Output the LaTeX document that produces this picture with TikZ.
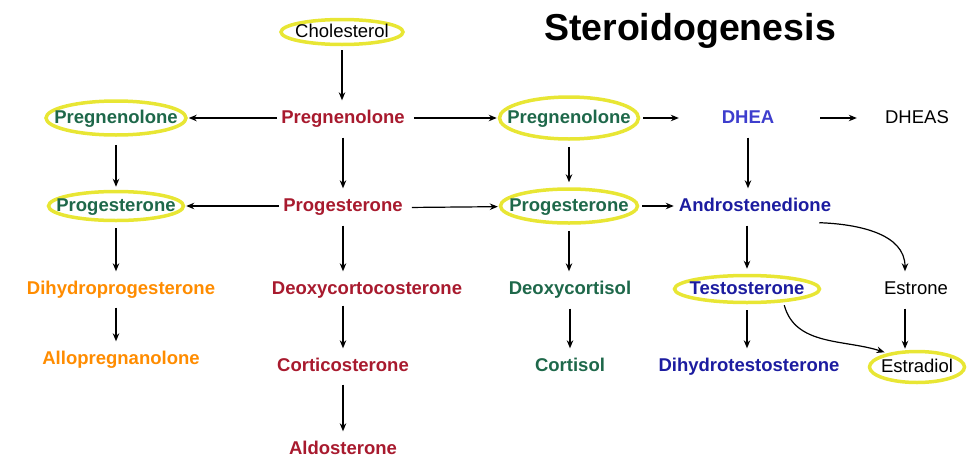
\documentclass[tikz,border=0pt]{standalone}
\usepackage{fontspec}
\setmainfont{Liberation Sans}
\usetikzlibrary{shapes.geometric,arrows.meta}
\definecolor{cred}{RGB}{168,26,46}
\definecolor{cgreen}{RGB}{30,104,74}
\definecolor{cblue}{RGB}{28,28,160}
\definecolor{cdhea}{RGB}{62,62,205}
\definecolor{corange}{RGB}{255,140,0}
\definecolor{cyel}{RGB}{232,230,52}
\begin{document}
\begin{tikzpicture}[x=1pt,y=1pt,
 lbl/.style={font=\fontsize{18.5}{21}\selectfont\bfseries, text height=14pt, text depth=3pt, inner xsep=4pt, inner ysep=8pt},
 reg/.style={font=\fontsize{18.5}{21}\selectfont},
 ring/.style={ellipse, draw=cyel, line width=3.5pt, inner xsep=-30pt, inner ysep=-8pt},
 arr/.style={-{Stealth[length=8pt,width=6.5pt]}, line width=1.2pt, shorten >=1pt},
]
\useasboundingbox (0,0) rectangle (980,-474);
\node[font=\fontsize{37.5}{40}\selectfont\bfseries] (title) at (690,-31) {Steroidogenesis};
% column 1
\node[lbl, reg, ring, minimum width=122, minimum height=25] (chol) at (342,-32) {Cholesterol};
\node[lbl, text=cred] (rpreg) at (343,-118) {Pregnenolone};
\node[lbl, text=cred] (rprog) at (343,-206) {Progesterone};
\node[lbl, text=cred] (dcs) at (367,-289) {Deoxycortocosterone};
\node[lbl, text=cred] (cort) at (343,-366) {Corticosterone};
\node[lbl, text=cred] (aldo) at (343,-449) {Aldosterone};
% left column
\node[lbl, text=cgreen, ring, minimum width=140, minimum height=34] (lpreg) at (116,-118) {Pregnenolone};
\node[lbl, text=cgreen, ring, minimum width=135, minimum height=29] (lprog) at (116,-206) {Progesterone};
\node[lbl, text=corange] (dhp) at (121,-289) {Dihydroprogesterone};
\node[lbl, text=corange] (allo) at (121,-359) {Allopregnanolone};
% middle column
\node[lbl, text=cgreen, ring, minimum width=139, minimum height=42] (mpreg) at (569,-118) {Pregnenolone};
\node[lbl, text=cgreen, ring, minimum width=137, minimum height=34] (mprog) at (569,-206) {Progesterone};
\node[lbl, text=cgreen] (dcl) at (570,-289) {Deoxycortisol};
\node[lbl, text=cgreen] (cortisol) at (570,-366) {Cortisol};
% androgen column
\node[lbl, text=cdhea, minimum width=136] (dhea) at (748,-118) {DHEA};
\node[lbl, text=cblue] (andro) at (755,-206) {Androstenedione};
\node[lbl, text=cblue, ring, minimum width=145, minimum height=27] (test) at (747,-289) {Testosterone};
\node[lbl, text=cblue] (dht) at (749,-366) {Dihydrotestosterone};
% estrogen column
\node[lbl, reg, minimum width=118] (dheas) at (917,-118) {DHEAS};
\node[lbl, reg] (estrone) at (916,-289) {Estrone};
\node[lbl, reg, ring, minimum width=95, minimum height=31] (estradiol) at (917,-367) {Estradiol};
% arrows
\draw[arr, shorten <=4pt] (chol.south) -- (chol.south |- rpreg.north);
\draw[arr] (rpreg) -- (lpreg);
\draw[arr, shorten <=5pt] (rpreg) -- (mpreg);
\draw[arr, shorten <=3pt] (mpreg) -- (dhea);
\draw[arr, shorten <=4pt] (dhea) -- (dheas);
\draw[arr, shorten <=8pt, shorten >=3pt] (lpreg) -- (lprog);
\draw[arr, shorten <=3pt] (rpreg) -- (rprog);
\draw[arr, shorten <=6pt, shorten >=5pt] (mpreg) -- (mprog);
\draw[arr, shorten <=3pt] (dhea) -- (dhea |- andro.north);
\draw[arr] (rprog) -- (lprog);
\draw[arr, shorten <=5pt] ([yshift=-1.5pt]rprog.east) -- (mprog);
\draw[arr, shorten <=3pt] (mprog) -- (andro);
\draw[arr, shorten <=6pt] (lprog) -- (lprog |- dhp.north);
\draw[arr, shorten <=3pt] (rprog) -- (rprog |- dcs.north);
\draw[arr, shorten <=6pt] (mprog) -- (mprog |- dcl.north);
\draw[arr, shorten <=3pt, shorten >=5pt] (andro.south -| test.north) -- (test.north);
\draw[arr] ([xshift=-16pt]andro.south east) to[out=-2, in=90] ([xshift=-11pt]estrone.north);
\draw[arr, shorten <=2pt] (lprog |- dhp.south) -- (lprog |- allo.north);
\draw[arr] (rprog |- dcs.south) -- (rprog |- cort.north);
\draw[arr, shorten <=3pt] (dcl) -- (dcl |- cortisol.north);
\draw[arr, shorten <=6pt] (test) -- (test |- dht.north);
\draw[arr, shorten <=3pt] ([xshift=-11pt]estrone.south) -- ([xshift=-11pt]estrone.south |- estradiol.north);
\draw[arr, shorten <=3pt, shorten >=3pt] (test.-20) to[out=-75, in=162] (estradiol.155);
\draw[arr, shorten <=2pt] (cort) -- (cort |- aldo.north);
\end{tikzpicture}
\end{document}
